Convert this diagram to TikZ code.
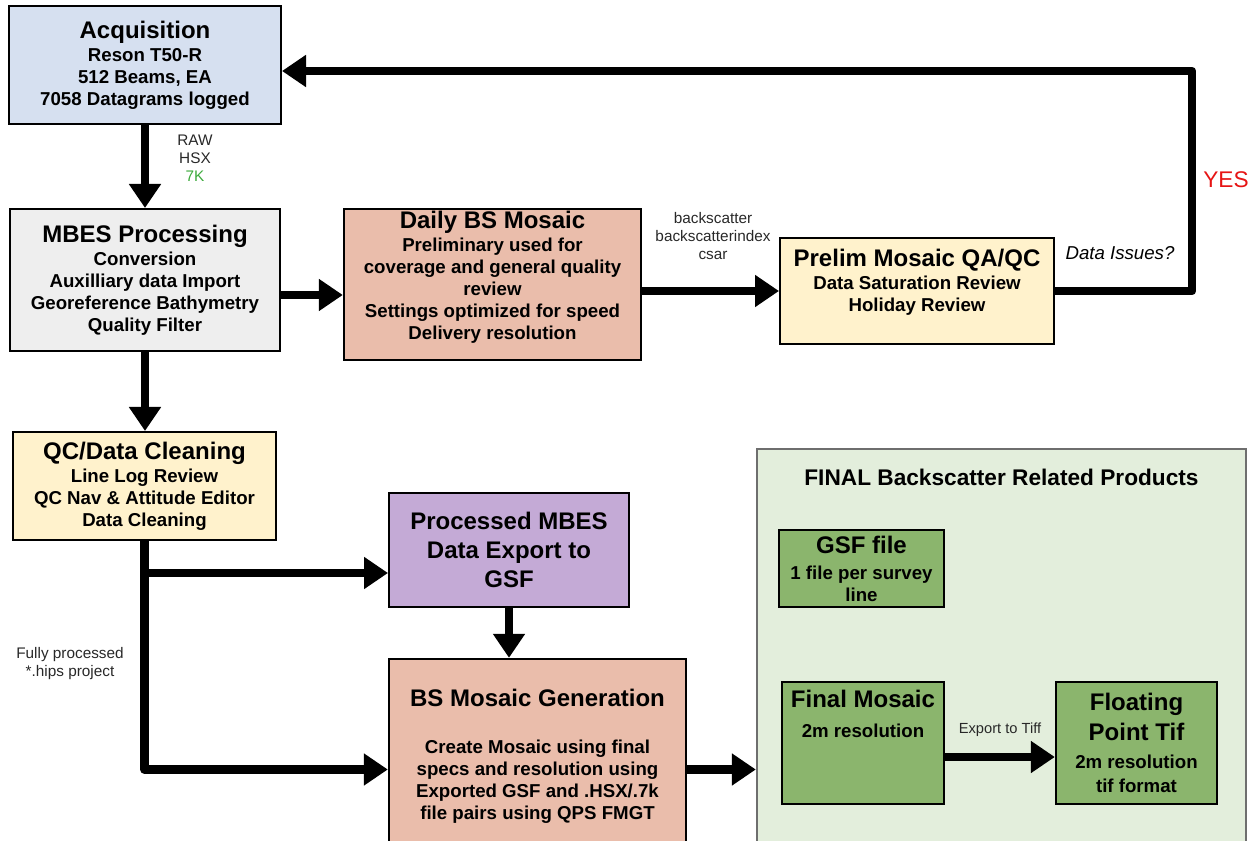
\documentclass[tikz,border=0pt]{standalone}
\usepackage{fontspec}
\setmainfont{Liberation Sans}
\usepackage{xcolor}
\usetikzlibrary{arrows.meta,calc}

\definecolor{acqblue}{RGB}{214,224,240}
\definecolor{procgrey}{RGB}{238,238,238}
\definecolor{mosaicred}{RGB}{234,189,171}
\definecolor{qcyellow}{RGB}{255,242,204}
\definecolor{gsfpurple}{RGB}{196,170,214}
\definecolor{prodgreen}{RGB}{139,181,109}
\definecolor{finalbg}{RGB}{227,238,220}
\definecolor{finaledge}{RGB}{110,110,110}
\definecolor{yesred}{RGB}{230,20,20}
\definecolor{sevenk}{RGB}{60,170,60}
\definecolor{labelgrey}{RGB}{40,40,40}

\newcommand{\hd}[1]{{\fontsize{18}{21}\selectfont #1}}

\tikzset{
  box/.style={draw=black, line width=1.5pt, align=center, inner sep=0pt, font=\fontsize{14}{16.5}\selectfont\bfseries},
  boxtext/.style={align=center, inner sep=0pt, anchor=north, font=\fontsize{14}{16.5}\selectfont\bfseries},
  flow/.style={line width=6.5pt, line join=round, -{Triangle[length=18pt,width=23pt]}},
  lbl/.style={align=center, inner sep=0pt, font=\fontsize{11.5}{13.5}\selectfont, text=labelgrey},
}

\begin{document}
\begin{tikzpicture}[x=0.75pt,y=0.75pt,yscale=-1,xscale=1]
\useasboundingbox (0,0) rectangle (1253,841);
\clip (0,0) rectangle (1253,841);

%Shape: Rectangle [final products]
\node[draw=finaledge, line width=1.5pt, fill=finalbg, minimum width=367pt, minimum height=323pt, inner sep=0pt] (final) at (1001.5,664.5) {};
% Text Node
\node[anchor=north, inner sep=0pt, font=\fontsize{17}{20}\selectfont\bfseries] (finaltitle) at ($(final.north)+(0,21)$) {FINAL Backscatter Related Products};

%Shape: Rectangle [acquisition]
\node[box, fill=acqblue, minimum width=204pt, minimum height=88.5pt] (acq) at (145,65) {\hd{Acquisition}\\[0.5pt] Reson T50-R\\ 512 Beams, EA\\ 7058 Datagrams logged};
%Shape: Rectangle [mbes processing]
\node[box, fill=procgrey, minimum width=203pt, minimum height=106.5pt] (mbes) at (145,280) {\hd{MBES Processing}\\[0.5pt] Conversion\\ Auxilliary data Import\\ Georeference Bathymetry\\ Quality Filter};
%Shape: Rectangle [daily mosaic]
\node[box, fill=mosaicred, minimum width=223pt, minimum height=113pt] (daily) at (492.5,284.5) {};
% Text Node
\node[boxtext] (dailytxt) at ($(daily.north)+(0,3)$) {\hd{Daily BS Mosaic}\\[0.5pt] Preliminary used for\\ coverage and general quality\\ review\\ Settings optimized for speed\\ Delivery resolution};
%Shape: Rectangle [prelim qa/qc]
\node[box, fill=qcyellow, minimum width=205.5pt, minimum height=79.5pt] (prelim) at (917,291) {};
% Text Node
\node[boxtext] (prelimtxt) at ($(prelim.north)+(0,12)$) {\hd{Prelim Mosaic QA/QC}\\[0.5pt] Data Saturation Review\\ Holiday Review};
%Shape: Rectangle [qc cleaning]
\node[box, fill=qcyellow, minimum width=197pt, minimum height=81pt] (qc) at (144.5,486) {\hd{QC/Data Cleaning}\\[0.5pt] Line Log Review\\ QC Nav \& Attitude Editor\\ Data Cleaning};
%Shape: Rectangle [gsf export]
\node[box, fill=gsfpurple, minimum width=180pt, minimum height=85.5pt, font=\fontsize{18}{21.5}\selectfont\bfseries] (procx) at (509,550) {Processed MBES\\ Data Export to\\ GSF};
%Shape: Rectangle [mosaic generation]
\node[box, fill=mosaicred, minimum width=223pt, minimum height=166pt] (bsgen) at (537.5,769.5) {};
% Text Node
\node[boxtext] (bsgentxt) at ($(bsgen.north)+(0,31)$) {\hd{BS Mosaic Generation}\\[18.5pt] Create Mosaic using final\\ specs and resolution using\\ Exported GSF and .HSX/.7k\\ file pairs using QPS FMGT};

%Shape: Rectangle [gsf file]
\node[box, fill=prodgreen, minimum width=124pt, minimum height=58pt] (gsf) at (861.5,568.5) {\hd{GSF file}\\[3pt] 1 file per survey\\ line};
%Shape: Rectangle [final mosaic]
\node[box, fill=prodgreen, minimum width=121.5pt, minimum height=91.5pt] (finmos) at (863,743) {};
% Text Node
\node[boxtext] (finmostxt) at ($(finmos.north)+(0,9)$) {\hd{Final Mosaic}\\[6pt] 2m resolution};
%Shape: Rectangle [floating point tif]
\node[box, fill=prodgreen, minimum width=121pt, minimum height=91.5pt] (floattif) at (1136.5,743) {\hd{Floating}\\[4.5pt]\hd{Point Tif}\\[5pt] 2m resolution\\[1.5pt] tif format};

% Text Node
\node[lbl] (rawlbl) at (195,158) {RAW\\ HSX\\ \textcolor{sevenk}{7K}};
% Text Node
\node[lbl] (bslbl) at (713,236) {backscatter\\ backscatterindex\\ csar};
% Text Node
\node[lbl] (hipslbl) at (70,664) {Fully processed\\ *.hips project};
% Text Node
\node[lbl, font=\fontsize{11}{13}\selectfont] (tifflbl) at (1000,730) {Export to Tiff};
% Text Node
\node[lbl, font=\fontsize{14}{16}\selectfont\itshape, text=black] (issuelbl) at (1120,253) {Data Issues?};
% Text Node
\node[lbl, font=\fontsize{17}{20}\selectfont, text=yesred] (yeslbl) at (1226,180) {YES};

% Connectors
\coordinate (mbesout) at ($(mbes.east)+(0,15)$);
\coordinate (yescorner) at (1192,71);
\coordinate (acqin) at ($(acq.east)+(0,6)$);
\coordinate (qcbranch) at ($(procx.west)+(0,23)$);
\coordinate (tiffout) at ($(finmos.east)+(0,14)$);

\draw[flow] (acq.south) -- (mbes.north);
\draw[flow] (mbesout) -- (mbesout -| daily.west);
\draw[flow] (prelim.west -| daily.east) -- (prelim.west);
\draw[flow] (prelim.east) -| (yescorner) -- (acqin);
\draw[flow] (mbes.south) -- (mbes.south |- qc.north);
\draw[flow] (qc.south) |- (bsgen.west);
\draw[flow] (qcbranch -| qc.south) -- (qcbranch);
\draw[flow] (procx.south) -- (procx.south |- bsgen.north);
\draw[flow] (bsgen.east) -- (bsgen.east -| final.west);
\draw[flow] (tiffout) -- (tiffout -| floattif.west);
\end{tikzpicture}
\end{document}
